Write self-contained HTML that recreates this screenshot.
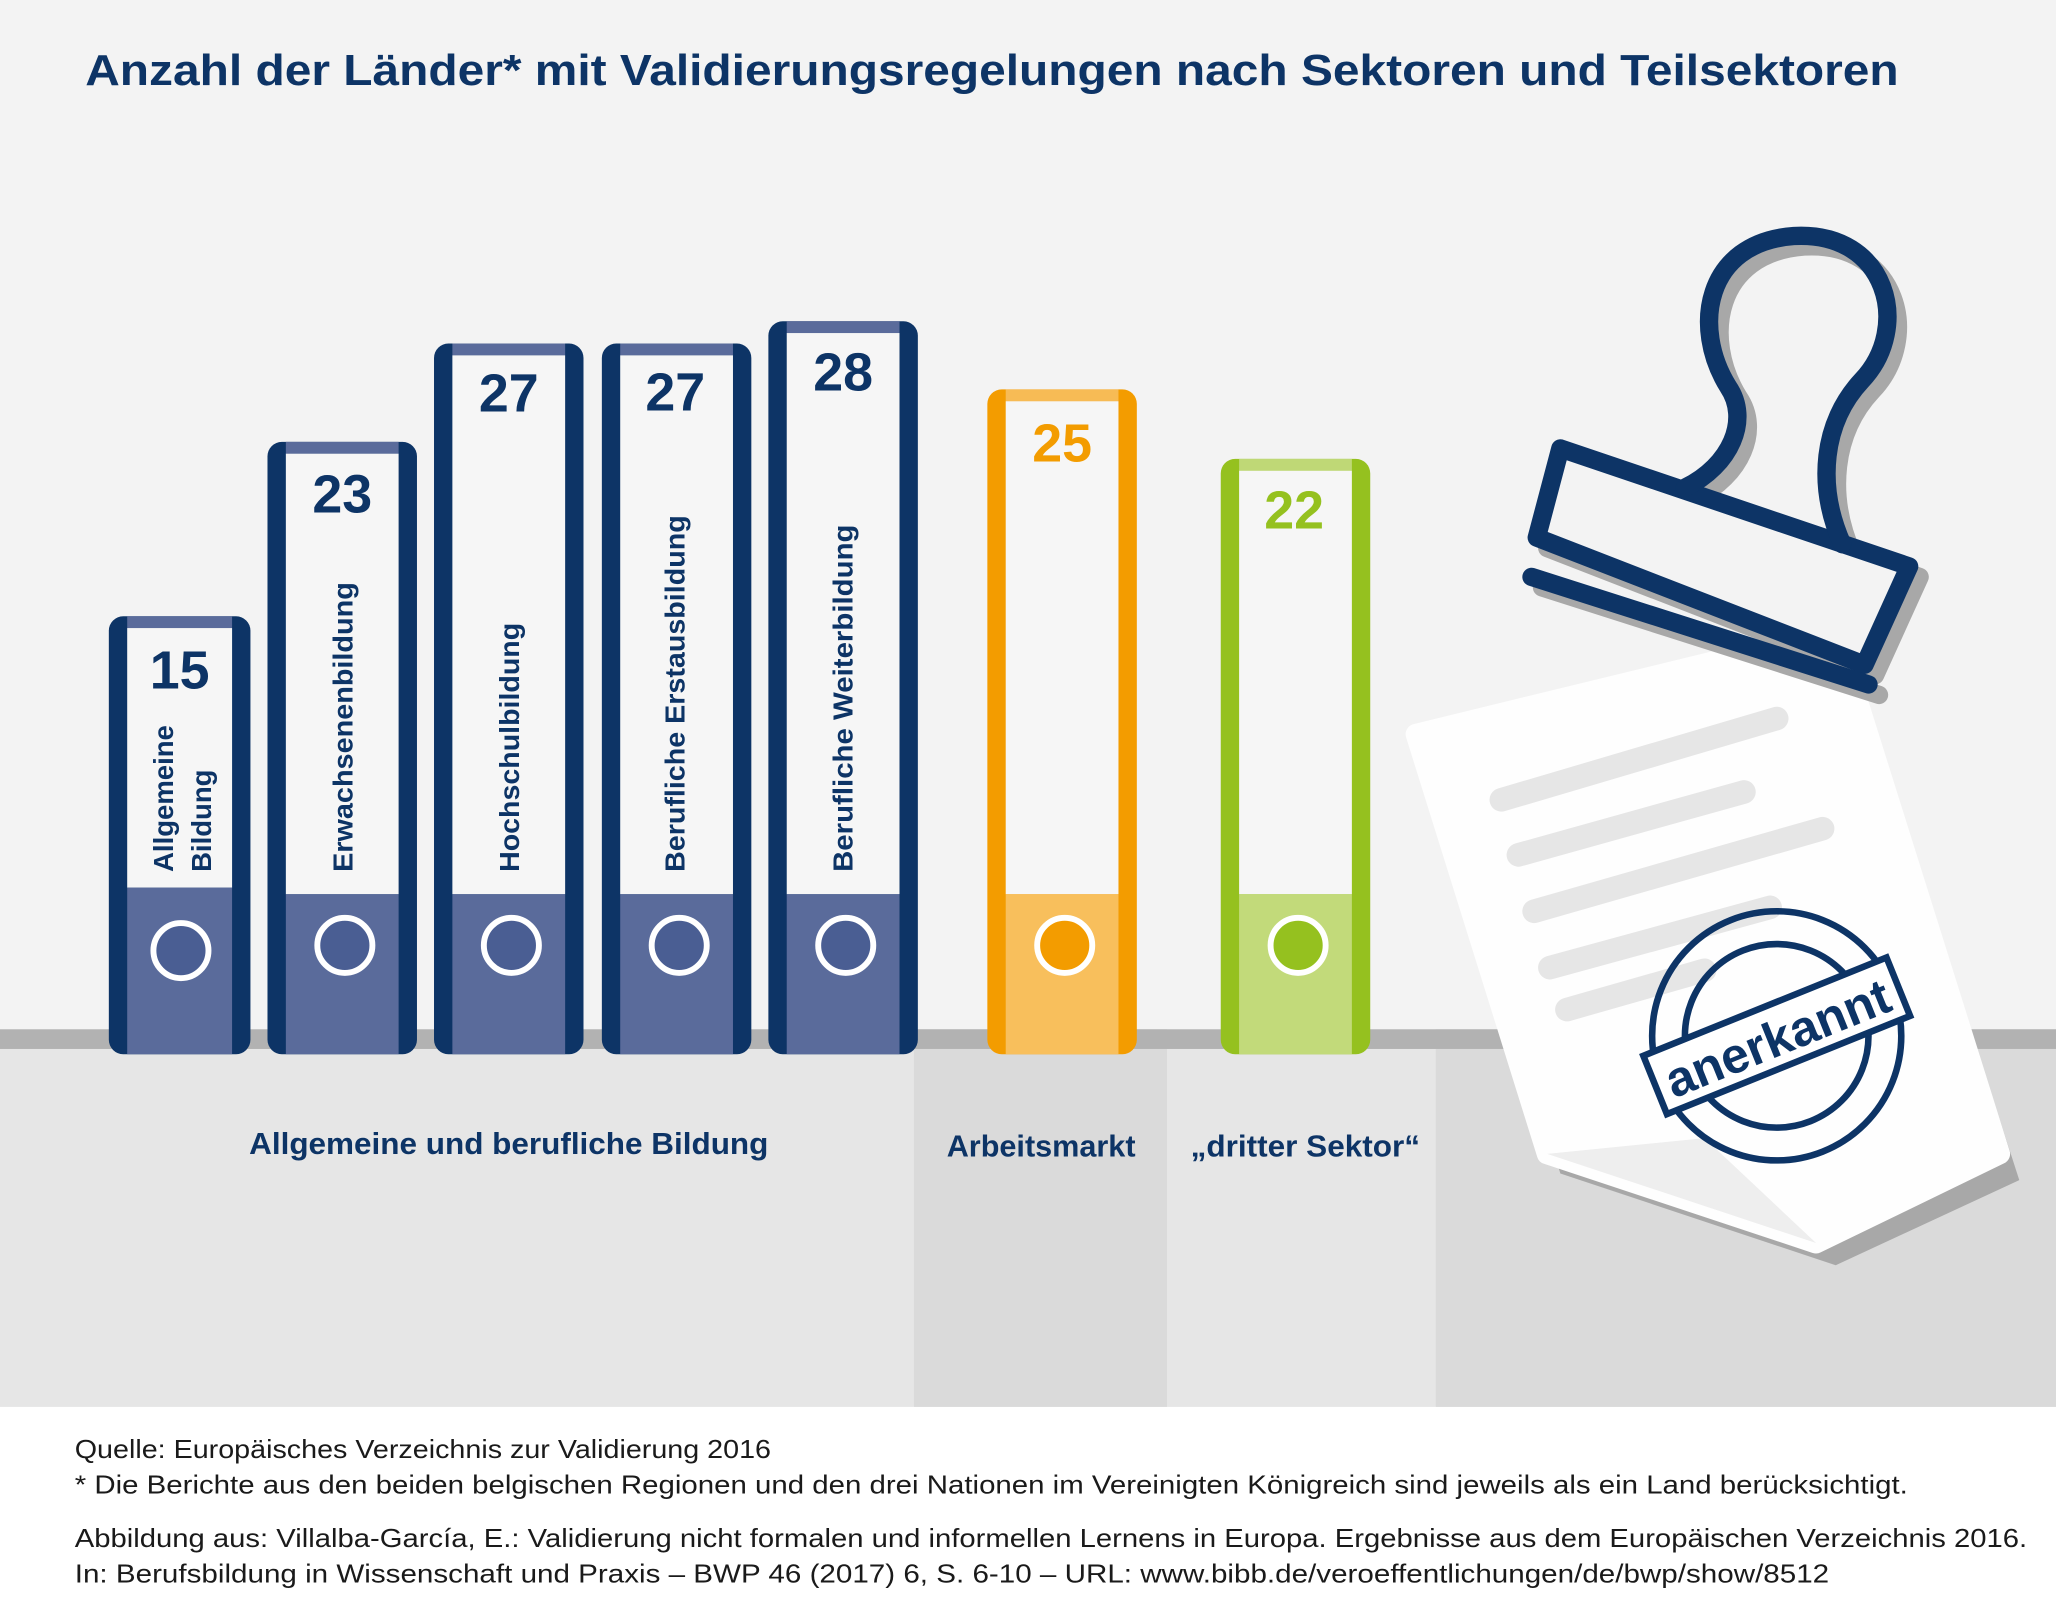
<!DOCTYPE html>
<html><head><meta charset="utf-8"><style>
html,body{margin:0;padding:0;background:#fff}
svg{display:block}
text{font-family:"Liberation Sans","DejaVu Sans",sans-serif}
</style></head><body>
<svg width="2056" height="1618" viewBox="0 0 1568 1234" preserveAspectRatio="none" xmlns="http://www.w3.org/2000/svg">
<rect x="0" y="0" width="1568" height="1234" fill="#fff"/>
<rect x="0" y="0" width="1568" height="785" fill="#f3f3f3"/>
<rect x="0" y="785" width="1568" height="288" fill="#e6e6e6"/>
<rect x="697" y="785" width="193" height="288" fill="#dadada"/>
<rect x="1095" y="785" width="473" height="288" fill="#dadada"/>
<rect x="0" y="785" width="1568" height="15" fill="#b2b2b2"/>

<text x="65" y="65" font-size="33" font-weight="bold" fill="#0d3466" textLength="1383" lengthAdjust="spacingAndGlyphs">Anzahl der Länder* mit Validierungsregelungen nach Sektoren und Teilsektoren</text>

<g>
<rect x="83" y="470" width="108" height="334" rx="11" fill="#0d3466"/><rect x="97" y="470" width="80" height="9" fill="#5a6b9b"/><rect x="97" y="479" width="80" height="198" fill="#f6f6f6"/><rect x="97" y="677" width="80" height="127" fill="#5a6b9b"/><circle cx="138" cy="725" r="21" fill="#4a5e93" stroke="#fff" stroke-width="4.5"/>
<rect x="204" y="337" width="114" height="467" rx="11" fill="#0d3466"/><rect x="218" y="337" width="86" height="9" fill="#5a6b9b"/><rect x="218" y="346" width="86" height="336" fill="#f6f6f6"/><rect x="218" y="682" width="86" height="122" fill="#5a6b9b"/><circle cx="263" cy="721" r="21" fill="#4a5e93" stroke="#fff" stroke-width="4.5"/>
<rect x="331" y="262" width="114" height="542" rx="11" fill="#0d3466"/><rect x="345" y="262" width="86" height="9" fill="#5a6b9b"/><rect x="345" y="271" width="86" height="411" fill="#f6f6f6"/><rect x="345" y="682" width="86" height="122" fill="#5a6b9b"/><circle cx="390" cy="721" r="21" fill="#4a5e93" stroke="#fff" stroke-width="4.5"/>
<rect x="459" y="262" width="114" height="542" rx="11" fill="#0d3466"/><rect x="473" y="262" width="86" height="9" fill="#5a6b9b"/><rect x="473" y="271" width="86" height="411" fill="#f6f6f6"/><rect x="473" y="682" width="86" height="122" fill="#5a6b9b"/><circle cx="518" cy="721" r="21" fill="#4a5e93" stroke="#fff" stroke-width="4.5"/>
<rect x="586" y="245" width="114" height="559" rx="11" fill="#0d3466"/><rect x="600" y="245" width="86" height="9" fill="#5a6b9b"/><rect x="600" y="254" width="86" height="428" fill="#f6f6f6"/><rect x="600" y="682" width="86" height="122" fill="#5a6b9b"/><circle cx="645" cy="721" r="21" fill="#4a5e93" stroke="#fff" stroke-width="4.5"/>
<rect x="753" y="297" width="114" height="507" rx="11" fill="#f39c00"/><rect x="767" y="297" width="86" height="9" fill="#f7bb55"/><rect x="767" y="306" width="86" height="376" fill="#f6f6f6"/><rect x="767" y="682" width="86" height="122" fill="#f8bf5c"/><circle cx="812" cy="721" r="21" fill="#f39c00" stroke="#fff" stroke-width="4.5"/>
<rect x="931" y="350" width="114" height="454" rx="11" fill="#95c11f"/><rect x="945" y="350" width="86" height="9" fill="#bfd876"/><rect x="945" y="359" width="86" height="323" fill="#f6f6f6"/><rect x="945" y="682" width="86" height="122" fill="#c2da7a"/><circle cx="990" cy="721" r="21" fill="#95c11f" stroke="#fff" stroke-width="4.5"/>
</g>
<g font-size="41" font-weight="bold" text-anchor="middle" fill="#0d3466">
<text x="137" y="525">15</text><text x="261" y="391">23</text><text x="388" y="314">27</text><text x="515" y="313">27</text><text x="643" y="298">28</text>
<text x="810" y="352" fill="#f39c00">25</text><text x="987" y="403" fill="#95c11f">22</text>
</g>
<g font-size="21" font-weight="bold" fill="#0d3466">
<text transform="translate(132,665) rotate(-90)">Allgemeine</text>
<text transform="translate(161,665) rotate(-90)">Bildung</text>
<text transform="translate(269,665) rotate(-90)" textLength="221" lengthAdjust="spacingAndGlyphs">Erwachsenenbildung</text>
<text transform="translate(396,665) rotate(-90)" textLength="190" lengthAdjust="spacingAndGlyphs">Hochschulbildung</text>
<text transform="translate(522,665) rotate(-90)" textLength="272" lengthAdjust="spacingAndGlyphs">Berufliche Erstausbildung</text>
<text transform="translate(650,665) rotate(-90)" textLength="265" lengthAdjust="spacingAndGlyphs">Berufliche Weiterbildung</text>
</g>
<g font-size="23" font-weight="bold" fill="#0d3466">
<text x="190" y="880" textLength="396" lengthAdjust="spacingAndGlyphs">Allgemeine und berufliche Bildung</text>
<text x="722" y="882" textLength="144" lengthAdjust="spacingAndGlyphs">Arbeitsmarkt</text>
<text x="908" y="882" textLength="175" lengthAdjust="spacingAndGlyphs">„dritter Sektor“</text>
</g>

<polygon points="1092,575 1410,498 1540,900 1400,965 1190,895" fill="#a8a8a8"/>
<polygon points="1080,560 1400,482 1525,880 1385,948 1180,880" fill="#fefefe" stroke="#fefefe" stroke-width="16" stroke-linejoin="round"/>
<polygon points="1180,880 1300,868 1385,948" fill="#eeeeee"/>
<g stroke="#e6e6e6" stroke-width="18" stroke-linecap="round">
<line x1="1145" y1="610" x2="1355" y2="548"/>
<line x1="1158" y1="652" x2="1330" y2="604"/>
<line x1="1170" y1="695" x2="1390" y2="632"/>
<line x1="1182" y1="738" x2="1350" y2="692"/>
<line x1="1195" y1="770" x2="1300" y2="740"/>
</g>
<g fill="none" stroke="#0d3466">
<circle cx="1355" cy="790" r="95" stroke-width="5"/>
<circle cx="1355" cy="790" r="70" stroke-width="5"/>
</g>
<g transform="rotate(-22 1355 790)">
<rect x="1255" y="766" width="200" height="48" fill="#fff" stroke="#0d3466" stroke-width="5"/>
<text x="1355" y="805" font-size="38" font-weight="bold" fill="#0d3466" text-anchor="middle">anerkannt</text>
</g>
<g fill="none" stroke="#a8a8a8" stroke-width="14" stroke-linejoin="round" stroke-linecap="round" transform="translate(8,8)">
<polygon points="1190,342 1456,432 1422,507 1172,410"/>
<line x1="1168" y1="440" x2="1425" y2="522"/>
<path d="M1285,372 C1320,355 1335,320 1318,295 C1290,250 1300,185 1368,180 C1440,176 1458,250 1420,290 C1390,322 1385,370 1405,415"/>
</g>
<g fill="none" stroke="#0d3466" stroke-width="14" stroke-linejoin="round" stroke-linecap="round">
<polygon points="1190,342 1456,432 1422,507 1172,410" fill="#f3f3f3"/>
<line x1="1168" y1="440" x2="1425" y2="522"/>
<path d="M1285,372 C1320,355 1335,320 1318,295 C1290,250 1300,185 1368,180 C1440,176 1458,250 1420,290 C1390,322 1385,370 1405,415"/>
</g>

<g font-size="20" fill="#1a1a1a">
<text x="57" y="1112" textLength="531" lengthAdjust="spacingAndGlyphs">Quelle: Europäisches Verzeichnis zur Validierung 2016</text>
<text x="57" y="1139" textLength="1398" lengthAdjust="spacingAndGlyphs">* Die Berichte aus den beiden belgischen Regionen und den drei Nationen im Vereinigten Königreich sind jeweils als ein Land berücksichtigt.</text>
<text x="57" y="1180" textLength="1489" lengthAdjust="spacingAndGlyphs">Abbildung aus: Villalba-García, E.: Validierung nicht formalen und informellen Lernens in Europa. Ergebnisse aus dem Europäischen Verzeichnis 2016.</text>
<text x="57" y="1207" textLength="1338" lengthAdjust="spacingAndGlyphs">In: Berufsbildung in Wissenschaft und Praxis – BWP 46 (2017) 6, S. 6-10 – URL: www.bibb.de/veroeffentlichungen/de/bwp/show/8512</text>
</g>
</svg>
</body></html>
